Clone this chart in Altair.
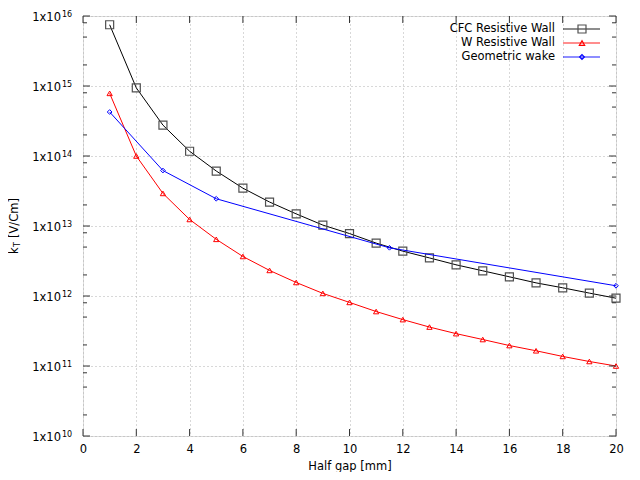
import altair as alt
import pandas as pd

# ---------------- data ----------------
half_gap = list(range(1, 21))
cfc_rw = [7.5e15, 9.4e14, 2.76e14, 1.17e14, 6.1e13, 3.47e13, 2.2e13, 1.49e13, 1.03e13, 7.8e12,
          5.7e12, 4.37e12, 3.5e12, 2.79e12, 2.29e12, 1.88e12, 1.54e12, 1.31e12, 1.1e12, 9.3e11]
w_rw = [7.85e14, 1.0e14, 2.92e13, 1.24e13, 6.45e12, 3.67e12, 2.32e12, 1.56e12, 1.09e12, 8.1e11,
        6.0e11, 4.6e11, 3.6e11, 2.9e11, 2.39e11, 1.96e11, 1.65e11, 1.37e11, 1.16e11, 1.0e11]
geo_x = [1, 3, 5, 11.5, 20]
geo_y = [4.25e14, 6.2e13, 2.45e13, 4.88e12, 1.4e12]

series_names = ["CFC Resistive Wall", "W Resistive Wall", "Geometric wake"]
line_colors = ["#000000", "#ff0000", "#0000ff"]
marker_colors = ["#505050", "#ff0000", "#0000ff"]
marker_shapes = ["square", "triangle-up", "diamond"]
marker_sizes = [64, 28, 22]

x_ticks = list(range(0, 21, 2))
y_decades = [1e10, 1e11, 1e12, 1e13, 1e14, 1e15, 1e16]
y_exponents = ["10", "11", "12", "13", "14", "15", "16"]
y_minor = [m * d for d in y_decades[:-1] for m in (2, 5, 8)]

x_title = "Half gap [mm]"

W, H = 533, 420
FONT = "DejaVu Sans"
FS = 11.5

xscale = alt.Scale(domain=[0, 20], nice=False, zero=False)
yscale = alt.Scale(type="log", domain=[1e10, 1e16], nice=False)
xaxis = alt.Axis(values=x_ticks, title=x_title, ticks=False, domain=False, grid=True,
                 labelFont=FONT, labelFontSize=FS, labelColor="black", labelPadding=7,
                 titleFont=FONT, titleFontSize=FS, titleFontWeight="normal", titleColor="black",
                 titlePadding=6, gridDash=[1, 3], gridColor="#b0b0b0", gridWidth=1, labelFlush=False)
yaxis = alt.Axis(values=y_decades, title=None, ticks=False, domain=False, grid=True, labels=False,
                 gridDash=[1, 3], gridColor="#b0b0b0", gridWidth=1)

layers = []

# series
series_data = [
    pd.DataFrame({"x": half_gap, "y": cfc_rw}),
    pd.DataFrame({"x": half_gap, "y": w_rw}),
    pd.DataFrame({"x": geo_x, "y": geo_y}),
]
for i, df in enumerate(series_data):
    base = alt.Chart(df).encode(
        x=alt.X("x:Q", scale=xscale, axis=xaxis),
        y=alt.Y("y:Q", scale=yscale, axis=yaxis),
    )
    layers.append(base.mark_line(color=line_colors[i], strokeWidth=1))
    layers.append(base.mark_point(shape=marker_shapes[i], filled=False, color=marker_colors[i],
                                  strokeWidth=1.2 if i == 0 else 1, size=marker_sizes[i], opacity=1))

# inward ticks
xt = pd.DataFrame({"v": x_ticks})
for y0, y1 in [(H, H - 7), (0, 7)]:
    layers.append(alt.Chart(xt).mark_rule(color="#333333", strokeWidth=1).encode(
        x=alt.X("v:Q", scale=xscale, axis=xaxis), y=alt.value(y0), y2=alt.value(y1)))
yt = pd.DataFrame({"v": y_decades})
ym = pd.DataFrame({"v": y_minor})
for df, ln in [(yt, 7), (ym, 4)]:
    for x0, x1 in [(0, ln), (W - ln, W)]:
        layers.append(alt.Chart(df).mark_rule(color="#333333", strokeWidth=1).encode(
            y=alt.Y("v:Q", scale=yscale, axis=yaxis), x=alt.value(x0), x2=alt.value(x1)))

# y tick labels 1x10^n
ylab = pd.DataFrame({"v": y_decades, "e": y_exponents})
layers.append(alt.Chart(ylab).mark_text(align="right", baseline="middle", font=FONT, fontSize=FS,
                                        color="black", dy=2).encode(
    y=alt.Y("v:Q", scale=yscale, axis=yaxis), x=alt.value(-22), text=alt.value("1x10")))
layers.append(alt.Chart(ylab).mark_text(align="left", baseline="middle", font=FONT, fontSize=8,
                                        color="black", dy=-1).encode(
    y=alt.Y("v:Q", scale=yscale, axis=yaxis), x=alt.value(-21), text="e:N"))

# y title k_T [V/Cm]
one = pd.DataFrame({"a": [0]})
layers.append(alt.Chart(one).mark_text(angle=270, align="left", baseline="middle", font=FONT,
                                       fontSize=FS, color="black").encode(
    x=alt.value(-68), y=alt.value(238), text=alt.value("k")))
layers.append(alt.Chart(one).mark_text(angle=270, align="left", baseline="middle", font=FONT,
                                       fontSize=8, color="black").encode(
    x=alt.value(-65), y=alt.value(231), text=alt.value("T")))
layers.append(alt.Chart(one).mark_text(angle=270, align="left", baseline="middle", font=FONT,
                                       fontSize=FS, color="black").encode(
    x=alt.value(-68), y=alt.value(222), text=alt.value("[V/Cm]")))

# legend (manual, gnuplot style)
row_y = [13, 27, 41]
for i, name in enumerate(series_names):
    d = pd.DataFrame({"label": [name]})
    layers.append(alt.Chart(d).mark_text(align="right", baseline="middle", font=FONT, fontSize=FS,
                                         color="black").encode(
        x=alt.value(472), y=alt.value(row_y[i]), text="label:N"))
    layers.append(alt.Chart(d).mark_rule(color=line_colors[i], strokeWidth=1.5, opacity=0.6).encode(
        x=alt.value(480), x2=alt.value(517), y=alt.value(row_y[i])))
    layers.append(alt.Chart(d).mark_point(shape=marker_shapes[i], filled=False, color=marker_colors[i],
                                          size=marker_sizes[i], strokeWidth=1.2, opacity=1).encode(
        x=alt.value(499), y=alt.value(row_y[i])))

chart = alt.layer(*layers).properties(
    width=W, height=H,
    autosize=alt.AutoSizeParams(type="none"),
    padding={"left": 75, "top": 8, "right": 16, "bottom": 36},
).configure_view(stroke="#222222", strokeWidth=1.5).configure(background="white")

chart.save("out.html", embed_options={"renderer": "svg", "actions": False})
